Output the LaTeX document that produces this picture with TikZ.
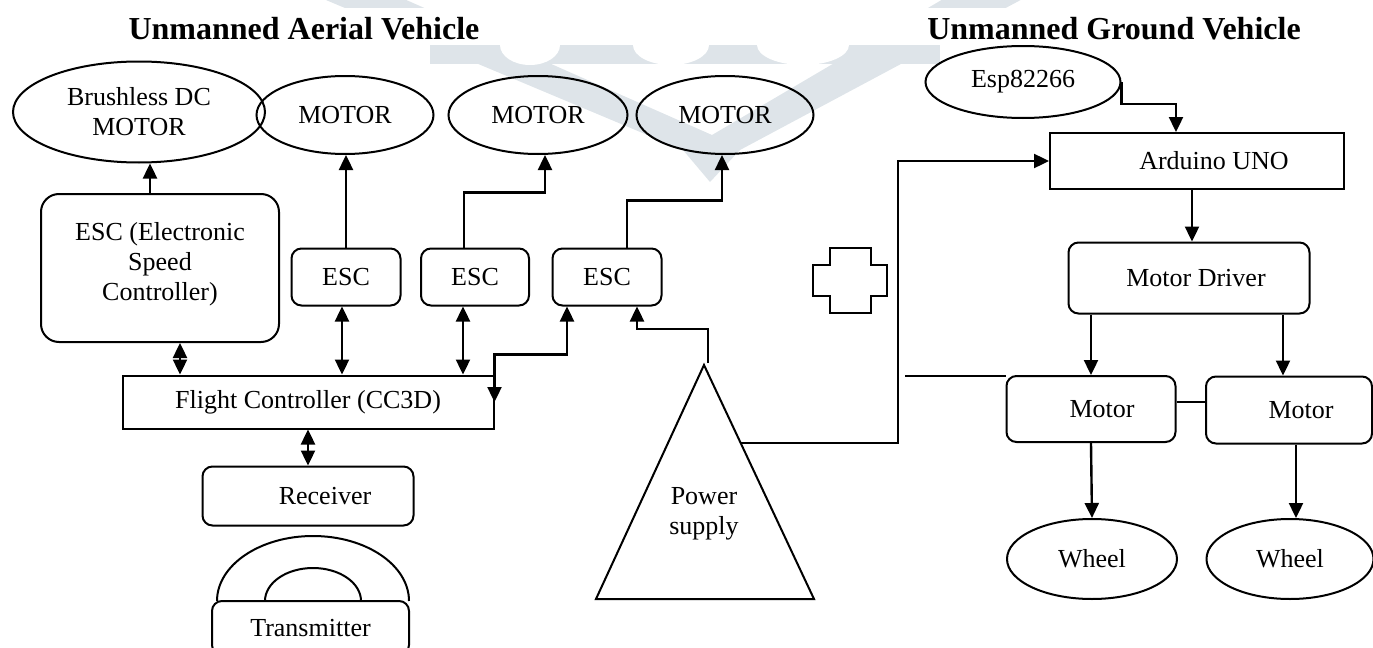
\documentclass[tikz,border=0pt]{standalone}
\usepackage{fontspec}
\setmainfont{Liberation Serif}
\usepackage{tikz}
\usetikzlibrary{shapes,arrows.meta,positioning}
\definecolor{wmark}{RGB}{222,228,233}

\begin{document}
\begin{tikzpicture}[x=0.5pt,y=-0.5pt,font=\fontsize{13}{15}\selectfont]
\tikzstyle{ellip}=[ellipse, draw=black, line width=1pt, inner sep=0pt, align=center]
\tikzstyle{rbox}=[rectangle, rounded corners=5pt, draw=black, line width=1pt, inner sep=0pt, align=center]
\tikzstyle{sbox}=[rectangle, draw=black, line width=1pt, inner sep=0pt, align=center]
\tikzstyle{ttl}=[font=\fontsize{16}{18}\selectfont\bfseries]
\tikzstyle{outline}=[line width=1pt]
\tikzstyle{connect}=[-{Triangle[length=7.5pt,width=7pt]}, line width=1.2pt]
\tikzstyle{twoway}=[{Triangle[length=7.5pt,width=7pt]}-{Triangle[length=7.5pt,width=7pt]}, line width=1.2pt]
\useasboundingbox (0,0) rectangle (1373,648);

% faint logo behind the drawing
\fill[wmark] (314,-5) -- (395,-5) -- (712,135) -- (950,-5) -- (1030,-5) -- (740,150) -- (710,182) -- (683,150) -- cycle;
\fill[wmark] (430,45) rectangle (940,64);
\fill[white] (300,8) rectangle (1060,45);
\fill[white] (500,45) arc[start angle=180,end angle=360,x radius=15pt,y radius=10pt] -- cycle;
\fill[white] (633,45) arc[start angle=180,end angle=360,x radius=19pt,y radius=10pt] -- cycle;
\fill[white] (757,45) arc[start angle=180,end angle=360,x radius=23pt,y radius=10pt] -- cycle;

	\node[ttl] (ttl_a) at (304,29) {Unmanned Aerial Vehicle};
	\node[ttl] (ttl_g) at (1114,29) {Unmanned Ground Vehicle};

	% aerial side
	\node[ellip, minimum width=126pt, minimum height=50.5pt] (bldc) at (139,112) {Brushless DC\\MOTOR};
	\node[ellip, minimum width=88.5pt, minimum height=39pt] (mot_1) at (345,115) {MOTOR};
	\node[ellip, minimum width=89.5pt, minimum height=39pt] (mot_2) at (538,115) {MOTOR};
	\node[ellip, minimum width=88.5pt, minimum height=39pt] (mot_3) at (725,115) {MOTOR};
	\node[rbox, rounded corners=9pt, minimum width=119pt, minimum height=74pt] (esc_0) at (160,268) {ESC (Electronic\\Speed\\Controller)\\[-8pt]};
	\node[rbox, minimum width=54.5pt, minimum height=28.5pt] (esc_1) at (346,277) {ESC};
	\node[rbox, minimum width=54pt, minimum height=28.5pt] (esc_2) at (475,277) {ESC};
	\node[rbox, minimum width=54.5pt, minimum height=28.5pt] (esc_3) at (607,277) {ESC};
	\node[sbox, minimum width=185.5pt, minimum height=26.5pt] (fc) at (308,402) {Flight Controller (CC3D)};
	\node[rbox, minimum width=105.5pt, minimum height=29.5pt] (rcv) at (308,496) {\hspace*{17pt}Receiver};
	\node[rbox, minimum width=98.5pt, minimum height=27pt] (tx) at (310.5,628) {Transmitter};
	\draw[outline] (217,601) arc[start angle=180,end angle=0,x radius=48pt,y radius=32.5pt];
	\draw[outline] (265,601) arc[start angle=180,end angle=0,x radius=24pt,y radius=16.5pt];

	% power supply
	\draw[outline] (704,365) -- (814,599) -- (596,599) -- cycle;
	\node[align=center] (psu) at (704,514) {Power\\supply};
	\coordinate (ps_top) at (708,363);
	\coordinate (ps_side) at (741,443);

	% plus sign
	\draw[outline] (830,248) -- (871,248) -- (871,265) -- (887,265) -- (887,296) -- (871,296) -- (871,313)
		-- (830,313) -- (830,296) -- (813,296) -- (813,265) -- (830,265) -- cycle;

	% ground side
	\node[ellip, minimum width=97.5pt, minimum height=36pt] (esp) at (1023,82) {Esp82266};
	\node[sbox, minimum width=147pt, minimum height=28pt] (ard) at (1197,161) {\hspace*{17pt}Arduino UNO};
	\node[rbox, minimum width=120.5pt, minimum height=35.5pt] (drv) at (1189,278) {\hspace*{7pt}Motor Driver};
	\node[rbox, minimum width=84.5pt, minimum height=33pt] (gm_1) at (1091,409) {\hspace*{11pt}Motor};
	\node[rbox, minimum width=83pt, minimum height=33.5pt] (gm_2) at (1289,410) {\hspace*{12pt}Motor};
	\node[ellip, minimum width=85pt, minimum height=40pt] (wh_1) at (1092,559) {Wheel};
	\node[ellip, minimum width=83.5pt, minimum height=40pt] (wh_2) at (1290,559) {Wheel};

	% aerial links
	\draw[connect] ([xshift=-5pt]esc_0.north) -- ([xshift=-5pt]esc_0.north |- bldc.south);
	\draw[connect] (esc_1.north) -- (esc_1.north |- mot_1.south);
	\draw[connect] ([xshift=-5.5pt]esc_2.north) -- ++(0,-55) -| ([xshift=3.5pt]mot_2.south);
	\draw[connect] ([xshift=10pt]esc_3.north) -- ++(0,-47) -| ([xshift=-1.5pt]mot_3.south);
	\draw[twoway] ([xshift=10pt]esc_0.south) -- ([xshift=10pt]esc_0.south |- fc.north);
	\draw[twoway] ([xshift=-2pt]esc_1.south) -- ([xshift=-2pt]esc_1.south |- fc.north);
	\draw[twoway] ([xshift=-6pt]esc_2.south) -- ([xshift=-6pt]esc_2.south |- fc.north);
	\draw[twoway] ([xshift=-20pt]esc_3.south) -- ++(0,48) -| (fc.east);
	\draw[twoway] (fc.south) -- (rcv.north);
	\draw[connect] (ps_top) -- ++(0,-34) -| ([xshift=15pt]esc_3.south);
	\draw[connect] (ps_side) -- ++(157,0) |- (ard.west);

	% ground links
	\coordinate (d_2) at ([xshift=-3pt]gm_2.north);
	\coordinate (w_2) at ([xshift=3.5pt]gm_2.south);
	\coordinate (stub) at (905,376);
	\coordinate (lnk) at ([yshift=3.5pt]gm_1.east);
	\draw[connect] (esp.east) -- ++(0,22) -| ([xshift=-10.5pt]ard.north);
	\draw[connect] ([xshift=-2.5pt]ard.south) -- ([xshift=-2.5pt]ard.south |- drv.north);
	\draw[connect] (gm_1.north |- drv.south) -- (gm_1.north);
	\draw[connect] (d_2 |- drv.south) -- (d_2);
	\draw[connect] (gm_1.south) -- (wh_1.north);
	\draw[connect] (w_2) -- (w_2 |- wh_2.north);
	\draw[outline] (stub) -- (stub -| gm_1.west);
	\draw[outline] (lnk) -- (lnk -| gm_2.west);

\end{tikzpicture}
\end{document}
